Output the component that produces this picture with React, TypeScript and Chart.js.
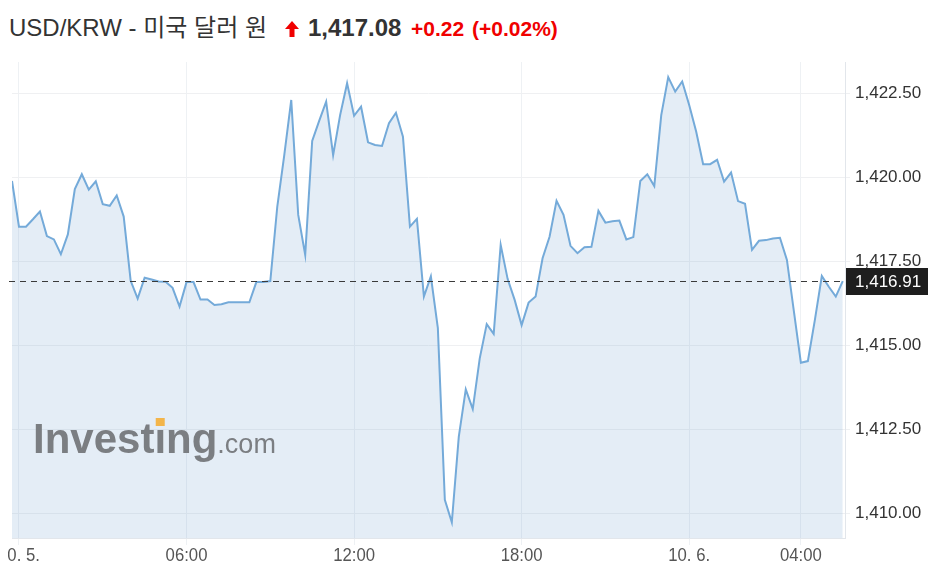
import React, { useEffect, useRef } from "react";
import { Chart, registerables } from "chart.js";

Chart.register(...registerables);

// ---- data ----
const TITLE = "USD/KRW - 미국 달러 원";
const PRICE_TEXT = "1,417.08";
const CHANGE_TEXT = "+0.22";
const CHANGE_PCT_TEXT = "(+0.02%)";

const START_HOUR = -0.25; // first sample (hours relative to 10. 5. 00:00)
const STEP_HOURS = 0.25; // 15-minute samples
const X_MAX = 29.58;

const PRICES = [
  1419.89, 1418.53, 1418.53, 1418.75, 1418.98, 1418.25, 1418.15, 1417.71, 1418.3, 1419.65,
  1420.09, 1419.63, 1419.88, 1419.2, 1419.15, 1419.46, 1418.83, 1416.92, 1416.39, 1417.01,
  1416.96, 1416.9, 1416.89, 1416.71, 1416.15, 1416.88, 1416.88, 1416.36, 1416.36, 1416.2,
  1416.22, 1416.28, 1416.28, 1416.28, 1416.28, 1416.88, 1416.88, 1416.91, 1419.13, 1420.66,
  1422.3, 1418.88, 1417.69, 1421.08, 1421.68, 1422.25, 1420.66, 1421.85, 1422.8, 1421.83,
  1422.1, 1421.04, 1420.96, 1420.93, 1421.61, 1421.92, 1421.21, 1418.53, 1418.76, 1416.45,
  1417.05, 1415.51, 1410.4, 1409.73, 1412.28, 1413.69, 1413.1, 1414.61, 1415.63, 1415.34,
  1417.99, 1416.97, 1416.35, 1415.6, 1416.27, 1416.45, 1417.59, 1418.23, 1419.3, 1418.88,
  1417.96, 1417.74, 1417.92, 1417.93, 1419.0, 1418.65, 1418.69, 1418.71, 1418.15, 1418.22,
  1419.89, 1420.09, 1419.74, 1421.85, 1422.98, 1422.55, 1422.85, 1422.15, 1421.36, 1420.39,
  1420.39, 1420.52, 1419.87, 1420.14, 1419.29, 1419.21, 1417.84, 1418.11, 1418.13, 1418.18,
  1418.2, 1417.54, 1416.01, 1414.48, 1414.53, 1415.75, 1417.06, 1416.74, 1416.45, 1416.91,
];

const LAST_PRICE = 1416.91;

const X_TICK_HOURS = [0, 6, 12, 18, 24, 28];
const X_TICK_LABELS = ["10. 5.", "06:00", "12:00", "18:00", "10. 6.", "04:00"];

const Y_TICKS = [1410, 1412.5, 1415, 1417.5, 1420, 1422.5];
const Y_MIN = 1409.265;
const Y_MAX = 1423.43;

const FONT = "'Liberation Sans', Arial, 'Noto Sans CJK KR', sans-serif";

const fmt = (v: number) =>
  v.toLocaleString("en-US", { minimumFractionDigits: 2, maximumFractionDigits: 2 });

const overlayPlugin = {
  id: "overlay",
  afterDatasetsDraw(chart: any) {
    const { ctx, chartArea, scales } = chart;
    ctx.save();
    // watermark
    const wx = 25;
    const wy = 407;
    ctx.fillStyle = "#7b7e82";
    ctx.textBaseline = "alphabetic";
    ctx.textAlign = "left";
    ctx.font = `bold 42px ${FONT}`;
    const part1 = "Invest";
    const part2 = "\u0131";
    const part3 = "ng";
    ctx.fillText(part1, wx, wy);
    const w1 = ctx.measureText(part1).width;
    ctx.fillText(part2, wx + w1, wy);
    const w2 = ctx.measureText(part2).width;
    ctx.fillText(part3, wx + w1 + w2, wy);
    const w3 = ctx.measureText(part3).width;
    ctx.fillStyle = "#f3b54a";
    ctx.fillRect(wx + w1 + w2 / 2 - 4.5, wy - 35, 9, 8);
    ctx.fillStyle = "#7b7e82";
    ctx.font = `27px ${FONT}`;
    ctx.fillText(".com", wx + w1 + w2 + w3, wy);

    // dashed last-price line
    const y = Math.round(scales.y.getPixelForValue(LAST_PRICE)) + 0.5;
    ctx.strokeStyle = "#3a3a3a";
    ctx.lineWidth = 1;
    ctx.setLineDash([6, 5]);
    ctx.beginPath();
    ctx.moveTo(1, y);
    ctx.lineTo(chartArea.right, y);
    ctx.stroke();
    ctx.restore();
  },
  afterDraw(chart: any) {
    const { ctx, chartArea, scales } = chart;
    ctx.save();
    // x labels
    ctx.fillStyle = "#555";
    ctx.font = `19px ${FONT}`;
    ctx.textAlign = "center";
    ctx.textBaseline = "middle";
    X_TICK_HOURS.forEach((h, i) => {
      const x = scales.x.getPixelForValue(h);
      ctx.save();
      ctx.translate(x, 510);
      ctx.scale(0.88, 1);
      ctx.fillText(X_TICK_LABELS[i], 0, 0);
      ctx.restore();
    });
    // price badge
    const y = scales.y.getPixelForValue(LAST_PRICE);
    ctx.fillStyle = "#1e1e1e";
    ctx.fillRect(chartArea.right + 1, Math.round(y) - 13, 82, 27);
    ctx.fillStyle = "#fff";
    ctx.font = `17px ${FONT}`;
    ctx.textAlign = "left";
    ctx.textBaseline = "middle";
    ctx.fillText(fmt(LAST_PRICE), chartArea.right + 10, Math.round(y) + 1);
    ctx.restore();
  },
};

export default function App() {
  const ref = useRef<HTMLCanvasElement>(null);

  useEffect(() => {
    if (!ref.current) return;
    const points = PRICES.map((v, i) => ({ x: START_HOUR + i * STEP_HOURS, y: v }));
    const chart = new Chart(ref.current, {
      type: "line",
      data: {
        datasets: [
          {
            data: points,
            borderColor: "#74aad9",
            borderWidth: 2,
            backgroundColor: "rgba(120,165,210,0.2)",
            fill: "start",
            pointRadius: 0,
            tension: 0,
          },
        ],
      },
      options: {
        animation: false,
        responsive: false,
        maintainAspectRatio: false,
        layout: { padding: { left: 4, top: 16, right: 0, bottom: 0 } },
        plugins: { legend: { display: false }, tooltip: { enabled: false } },
        scales: {
          x: {
            type: "linear",
            min: START_HOUR,
            max: X_MAX,
            afterBuildTicks: (s: any) => {
              s.ticks = X_TICK_HOURS.map((v) => ({ value: v }));
            },
            afterFit: (s: any) => {
              s.height = 43;
            },
            ticks: { display: false },
            grid: { color: "#eef1f4", tickLength: 7 },
            border: { color: "#e2e6eb" },
          },
          y: {
            position: "right",
            min: Y_MIN,
            max: Y_MAX,
            afterBuildTicks: (s: any) => {
              s.ticks = Y_TICKS.map((v) => ({ value: v }));
            },
            afterFit: (s: any) => {
              s.width = 92;
            },
            ticks: {
              callback: (v: any) => fmt(Number(v)),
              color: "#333",
              padding: 5,
              font: { size: 17, family: FONT },
            },
            grid: { color: "#eff0f2", tickLength: 5 },
            border: { color: "#e2e6eb" },
          },
        },
      } as any,
      plugins: [overlayPlugin],
    });
    return () => chart.destroy();
  }, []);

  return (
    <div
      style={{
        position: "fixed",
        left: 0,
        top: 0,
        width: 937,
        height: 581,
        background: "#fff",
        fontFamily: FONT,
        overflow: "hidden",
      }}
    >
      <div style={{ position: "absolute", left: 9, top: 16, fontSize: 24, lineHeight: "24px", color: "#333", whiteSpace: "nowrap" }}>
        {TITLE}
      </div>
      <svg style={{ position: "absolute", left: 285, top: 21 }} width={14} height={16}>
        <polygon points="7,0 14,8 9.5,8 9.5,16 4.5,16 4.5,8 0,8" fill="#f00000" />
      </svg>
      <div style={{ position: "absolute", left: 308, top: 16, fontSize: 24, lineHeight: "24px", fontWeight: 700, color: "#333" }}>
        {PRICE_TEXT}
      </div>
      <div style={{ position: "absolute", left: 411, top: 18, fontSize: 21, lineHeight: "21px", fontWeight: 700, color: "#f00000" }}>
        {CHANGE_TEXT}
      </div>
      <div style={{ position: "absolute", left: 472, top: 18, fontSize: 21, lineHeight: "21px", fontWeight: 700, color: "#f00000" }}>
        {CHANGE_PCT_TEXT}
      </div>
      <canvas
        ref={ref}
        width={929}
        height={535}
        style={{ position: "absolute", left: 8, top: 46, width: 929, height: 535 }}
      />
    </div>
  );
}
